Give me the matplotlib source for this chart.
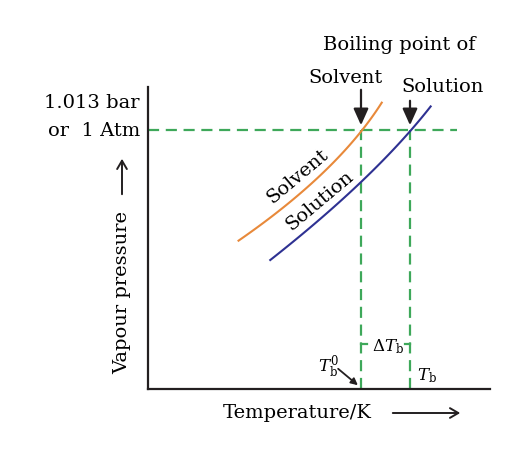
import numpy as np
import matplotlib
matplotlib.use("Agg")
import matplotlib.pyplot as plt

plt.rcParams['font.family'] = ['DejaVu Serif']
plt.rcParams['mathtext.fontset'] = 'dejavuserif'

# curve points (x = temperature units, y = vapour pressure units)
solvent_x = [93, 132, 175, 214, 231]
solvent_y = [151, 178, 215, 259, 283]
solution_x = [126, 165, 212, 262, 278]
solution_y = [133, 163, 204, 259, 277]

p_atm = 259          # 1.013 bar level
tb0 = 213            # boiling point of solvent
tb = 262             # boiling point of solution

ORANGE = '#e8893a'
BLUE = '#2e3192'
GREEN = '#3ea85a'
INK = '#231f20'

fig = plt.figure(figsize=(5.2, 4.52), dpi=100)
ax = fig.add_axes([148 / 520, 62 / 452, 342 / 520, 302 / 452])
ax.set_xlim(0, 342)
ax.set_ylim(0, 302)
for s in ['top', 'right']:
    ax.spines[s].set_visible(False)
for s in ['left', 'bottom']:
    ax.spines[s].set_linewidth(1.6)
    ax.spines[s].set_color(INK)
ax.set_xticks([])
ax.set_yticks([])

# smooth curves through the points
def smooth(xs, ys):
    t = np.linspace(0, 1, len(xs))
    tt = np.linspace(0, 1, 100)
    cx = np.polyfit(t, xs, 2)
    cy = np.polyfit(t, ys, 2)
    return np.polyval(cx, tt), np.polyval(cy, tt)

sx, sy = smooth(solvent_x, solvent_y)
ux, uy = smooth(solution_x, solution_y)
ax.plot(sx, sy, color=ORANGE, lw=1.5, zorder=3)
ax.plot(ux, uy, color=BLUE, lw=1.5, zorder=3)

# dashed guide lines
dash = dict(color=GREEN, lw=1.6, ls=(0, (5, 3)), zorder=2)
ax.plot([0, 309], [p_atm, p_atm], clip_on=False, **dash)
ax.plot([tb0, tb0], [0, p_atm], **dash)
ax.plot([tb, tb], [0, p_atm], **dash)
ax.plot([tb0, tb0 + 6], [45, 45], color=GREEN, lw=1.6)
ax.plot([tb - 5, tb], [45, 45], color=GREEN, lw=1.6)

fs = 14
ax.text(tb0 + 27, 43, r'$\Delta T_{\rm b}$', fontsize=12, ha='center', va='center')
ax.text(180, 23, r'$T_{\rm b}^{0}$', fontsize=12, ha='center', va='center')
ax.annotate('', xy=(tb0 - 1, 2), xytext=(188, 22),
            arrowprops=dict(arrowstyle='-|>', color=INK, lw=1.3))
ax.text(tb + 17, 14, r'$T_{\rm b}$', fontsize=12, ha='center', va='center')

# curve labels
ax.text(150, 214, 'Solvent', fontsize=fs, rotation=40, ha='center', va='center')
ax.text(172, 189, 'Solution', fontsize=fs, rotation=40, ha='center', va='center')

# top annotations
ax.text(251, 345, 'Boiling point of', fontsize=fs, ha='center', va='center', clip_on=False)
ax.text(198, 312, 'Solvent', fontsize=fs, ha='center', va='center', clip_on=False)
ax.text(295, 303, 'Solution', fontsize=fs, ha='center', va='center', clip_on=False)
arr = dict(arrowstyle='-|>,head_length=1.0,head_width=0.45', color=INK, lw=1.6)
ax.annotate('', xy=(tb0, p_atm + 2), xytext=(tb0, 302), arrowprops=arr, annotation_clip=False)
ax.annotate('', xy=(tb, p_atm + 2), xytext=(tb, 291), arrowprops=arr, annotation_clip=False)

# y axis labels
ax.text(-8, 287, '1.013 bar', fontsize=fs, ha='right', va='center', clip_on=False)
ax.text(-8, 259, 'or  1 Atm', fontsize=fs, ha='right', va='center', clip_on=False)
ax.text(-26, 98, 'Vapour pressure', fontsize=fs, rotation=90, ha='center', va='center')
ax.annotate('', xy=(-26, 233), xytext=(-26, 192),
            arrowprops=dict(arrowstyle='->,head_length=0.6,head_width=0.35', color=INK, lw=1.4),
            annotation_clip=False)

# x axis label
ax.text(149, -23, 'Temperature/K', fontsize=fs, ha='center', va='center')
ax.annotate('', xy=(315, -24), xytext=(242, -24),
            arrowprops=dict(arrowstyle='->,head_length=0.6,head_width=0.35', color=INK, lw=1.4),
            annotation_clip=False)

fig.savefig('out.png', dpi=100)
